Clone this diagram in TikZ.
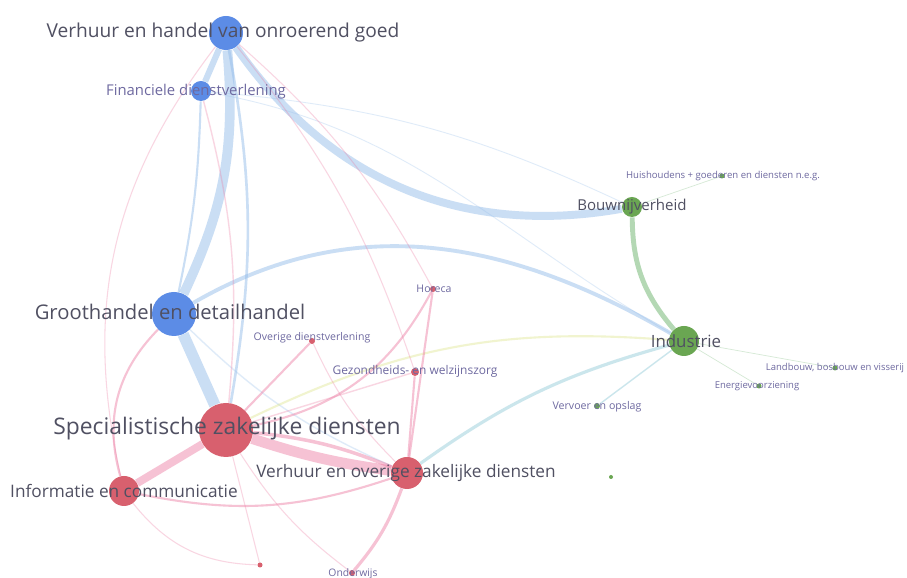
\documentclass[tikz,border=0pt]{standalone}
\usepackage{fontspec}
\setmainfont{Open Sans}
\usepackage{xcolor}
\usepackage{tikz}
\usetikzlibrary{backgrounds}

\definecolor{blauw}{RGB}{92,140,230}
\definecolor{rood}{RGB}{216,96,110}
\definecolor{groen}{RGB}{106,166,82}
\definecolor{lijnblauw}{RGB}{150,190,235}
\definecolor{lijnrood}{RGB}{236,120,160}
\definecolor{lijngroen}{RGB}{120,185,120}
\definecolor{lijnteal}{RGB}{140,200,215}
\definecolor{lijngeel}{RGB}{215,225,120}
\definecolor{tekst}{RGB}{80,80,98}
\definecolor{tekstklein}{RGB}{110,105,160}

\begin{document}
\begin{tikzpicture}[x=0.2mm, y=0.2mm,
    knoop/.style={circle, inner sep=0pt, draw=none},
    blauwk/.style={knoop, fill=blauw},
    roodk/.style={knoop, fill=rood},
    groenk/.style={knoop, fill=groen},
    lbl/.style={text=tekst, inner sep=0pt},
    lblklein/.style={text=tekstklein, inner sep=0pt},
    eb/.style={draw=lijnblauw, draw opacity=0.5},
    er/.style={draw=lijnrood, draw opacity=0.45},
    erlicht/.style={draw=lijnrood, draw opacity=0.3},
    eg/.style={draw=lijngroen, draw opacity=0.55},
    et/.style={draw=lijnteal, draw opacity=0.45},
    ey/.style={draw=lijngeel, draw opacity=0.35}]
    \useasboundingbox (0,0) rectangle (907,578);

    % Sectoren
    \node[blauwk, minimum size=34*0.2mm] (onroerend) at (226,545) {};
    \node[blauwk, minimum size=20*0.2mm] (financieel) at (201,487) {};
    \node[blauwk, minimum size=44*0.2mm] (groothandel) at (174,264) {};
    \node[roodk, minimum size=54*0.2mm] (specialistisch) at (226,148) {};
    \node[roodk, minimum size=30*0.2mm] (informatie) at (124,87) {};
    \node[roodk, minimum size=32*0.2mm] (overigzak) at (407,105) {};
    \node[roodk, minimum size=6*0.2mm] (onderwijs) at (352,5) {};
    \node[roodk, minimum size=5*0.2mm] (losrood) at (260,13) {};
    \node[roodk, minimum size=8*0.2mm] (gezondheid) at (415,206) {};
    \node[roodk, minimum size=6*0.2mm] (overigdienst) at (312,237) {};
    \node[roodk, minimum size=6*0.2mm] (horeca) at (433,289) {};
    \node[groenk, minimum size=20*0.2mm] (bouw) at (632,371) {};
    \node[groenk, minimum size=30*0.2mm] (industrie) at (684,237) {};
    \node[groenk, minimum size=5*0.2mm] (huishoudens) at (722,402) {};
    \node[groenk, minimum size=5*0.2mm] (landbouw) at (835,210) {};
    \node[groenk, minimum size=5*0.2mm] (energie) at (759,192) {};
    \node[groenk, minimum size=6*0.2mm] (vervoer) at (597,172) {};
    \node[groenk, minimum size=4*0.2mm] (losgroen) at (611,101) {};

    % Namen
    \node[lbl, font=\fontsize{10.9}{12}\selectfont] (onroerend-t) at (223,545) {Verhuur en handel van onroerend goed};
    \node[lblklein, font=\fontsize{8.45}{9}\selectfont] (financieel-t) at (196,486) {Financiele dienstverlening};
    \node[lbl, font=\fontsize{11.5}{12}\selectfont] (groothandel-t) at (170,266) {Groothandel en detailhandel};
    \node[lbl, font=\fontsize{13}{14}\selectfont] (specialistisch-t) at (227,149) {Specialistische zakelijke diensten};
    \node[lbl, font=\fontsize{9.8}{11}\selectfont] (informatie-t) at (124,87) {Informatie en communicatie};
    \node[lbl, font=\fontsize{9.8}{10}\selectfont] (overigzak-t) at (406,105) {Verhuur en overige zakelijke diensten};
    \node[lblklein, font=\fontsize{5.9}{6}\selectfont] (onderwijs-t) at (353,4) {Onderwijs};
    \node[lblklein, font=\fontsize{6.8}{8}\selectfont] (gezondheid-t) at (415,207) {Gezondheids- en welzijnszorg};
    \node[lblklein, font=\fontsize{6}{7}\selectfont] (overigdienst-t) at (312,240) {Overige dienstverlening};
    \node[lblklein, font=\fontsize{6}{7}\selectfont] (horeca-t) at (434,289) {Horeca};
    \node[lbl, font=\fontsize{8.55}{10}\selectfont] (bouw-t) at (632,371) {Bouwnijverheid};
    \node[lbl, font=\fontsize{9.6}{10}\selectfont] (industrie-t) at (686,237) {Industrie};
    \node[lblklein, font=\fontsize{5.45}{6}\selectfont] (huishoudens-t) at (723,402) {Huishoudens + goederen en diensten n.e.g.};
    \node[lblklein, font=\fontsize{5.4}{6}\selectfont] (landbouw-t) at (835,210) {Landbouw, bosbouw en visserij};
    \node[lblklein, font=\fontsize{5.4}{6}\selectfont] (energie-t) at (757,192) {Energievoorziening};
    \node[lblklein, font=\fontsize{6.05}{7}\selectfont] (vervoer-t) at (597,171) {Vervoer en opslag};

    % Verbindingen
    \begin{scope}[on background layer]
    \fill[white] (0,0) rectangle (907,578);
    \draw[eb, line width=5.5pt] (onroerend) to[bend left=15] (groothandel);
    \draw[eb, line width=3.5pt] (onroerend) -- (financieel);
    \draw[eb, line width=4.5pt] (onroerend) to[out=-55, in=190] (bouw);
    \draw[eb, line width=1.2pt] (financieel) to[bend left=5] (groothandel);
    \draw[eb, line width=1.5pt] (onroerend) to[bend left=10] (specialistisch);
    \draw[eb, line width=6.5pt] (groothandel) -- (specialistisch);
    \draw[eb, line width=2.2pt] (groothandel) to[out=30, in=150] (industrie);
    \draw[eb, draw opacity=0.3, line width=0.5pt] (financieel) to[out=-10, in=150] (industrie);
    \draw[eb, draw opacity=0.3, line width=0.5pt] (financieel) to[bend left=10] (bouw);
    \draw[eb, draw opacity=0.3, line width=0.8pt] (groothandel) to[bend right=10] (overigzak);
    \draw[eg, line width=2.8pt] (bouw) to[bend right=20] (industrie);
    \draw[eg, draw opacity=0.3, line width=0.4pt] (bouw) -- (huishoudens);
    \draw[eg, draw opacity=0.3, line width=0.4pt] (industrie) -- (energie);
    \draw[eg, draw opacity=0.3, line width=0.4pt] (industrie) -- (landbouw);
    \draw[et, line width=1.8pt] (overigzak) to[bend left=10] (industrie);
    \draw[et, line width=0.8pt] (vervoer) -- (industrie);
    \draw[ey, line width=1.2pt] (specialistisch) to[bend left=15] (industrie);
    \draw[er, line width=6pt] (specialistisch) to[bend right=5] (overigzak);
    \draw[er, line width=2pt] (specialistisch) to[bend left=8] (overigzak);
    \draw[er, line width=4.5pt] (specialistisch) -- (informatie);
    \draw[er, line width=1.2pt] (informatie) to[bend right=15] (overigzak);
    \draw[erlicht, line width=0.6pt] (informatie) to[bend right=25] (losrood);
    \draw[er, line width=1.2pt] (informatie) to[bend left=30] (groothandel);
    \draw[erlicht, line width=0.6pt] (informatie) to[bend left=25] (onroerend);
    \draw[er, line width=1.2pt] (specialistisch) to[bend right=25] (horeca);
    \draw[er, line width=1.2pt] (specialistisch) -- (overigdienst);
    \draw[erlicht, line width=0.8pt] (specialistisch) -- (gezondheid);
    \draw[erlicht, line width=0.6pt] (specialistisch) to[bend right=10] (onderwijs);
    \draw[erlicht, line width=0.6pt] (specialistisch) -- (losrood);
    \draw[er, line width=1.8pt] (overigzak) to[bend left=10] (onderwijs);
    \draw[er, line width=1.2pt] (overigzak) -- (gezondheid);
    \draw[er, line width=1.2pt] (overigzak) -- (horeca);
    \draw[erlicht, line width=0.6pt] (gezondheid) to[bend right=10] (onroerend);
    \draw[erlicht, line width=0.6pt] (horeca) to[bend right=10] (onroerend);
    \draw[erlicht, line width=0.8pt] (financieel) to[bend left=10] (specialistisch);
    \draw[erlicht, line width=0.6pt] (overigdienst) to[bend right=10] (overigzak);
    \end{scope}
\end{tikzpicture}
\end{document}
